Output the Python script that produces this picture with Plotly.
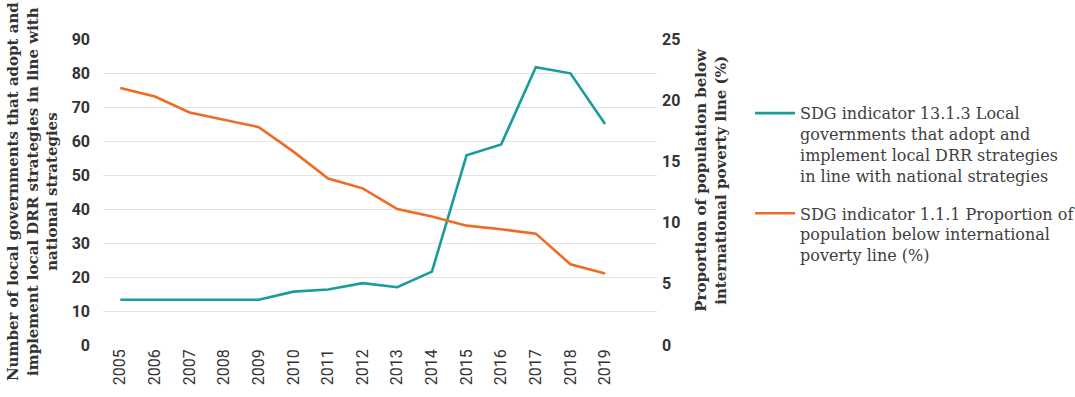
import plotly.graph_objects as go

years = [2005, 2006, 2007, 2008, 2009, 2010, 2011, 2012, 2013, 2014,
         2015, 2016, 2017, 2018, 2019]
local_drr = [13.3, 13.3, 13.3, 13.3, 13.3, 15.7, 16.3, 18.2, 17.0, 21.6,
             55.8, 59.0, 81.7, 79.9, 65.0]
poverty = [21.0, 20.3, 19.0, 18.4, 17.8, 15.8, 13.6, 12.8, 11.1, 10.5,
           9.75, 9.45, 9.1, 6.6, 5.85]

name_drr = ("SDG indicator 13.1.3 Local<br>governments that adopt and<br>"
            "implement local DRR strategies<br>in line with national strategies")
name_pov = ("SDG indicator 1.1.1 Proportion of<br>population below international<br>"
            "poverty line (%)")

TEAL = "#189d9b"
ORANGE = "#ef6b23"
TICK_FONT = dict(family="Roboto", size=16, color="#333333", weight="bold")
TITLE_FONT = dict(family="DejaVu Serif", size=15, color="#333333", weight="bold")

fig = go.Figure()
fig.add_trace(go.Scatter(x=years, y=local_drr, name=name_drr, mode="lines",
                         legendgroup="drr",
                         line=dict(color=TEAL, width=2.6)))
fig.add_trace(go.Scatter(x=years, y=poverty, name=name_pov, mode="lines",
                         legendgroup="pov",
                         line=dict(color=ORANGE, width=2.6), yaxis="y2"))

fig.update_layout(
    width=1075, height=397,
    margin=dict(l=103, r=418, t=39, b=52, autoexpand=False),
    plot_bgcolor="white", paper_bgcolor="white",
    showlegend=True,
    legend=dict(x=1.168, y=0.813, xanchor="left", yanchor="top",
                font=dict(family="DejaVu Serif", size=16, color="#404040"),
                valign="top", tracegroupgap=14, itemwidth=40,
                bgcolor="rgba(0,0,0,0)"),
    xaxis=dict(range=[2004.5, 2020.5], tickmode="array", tickvals=years,
               ticktext=[str(y) for y in years], tickangle=-90,
               tickfont=dict(family="Roboto", size=16, color="#333333"),
               showgrid=False, zeroline=False, showline=False),
    yaxis=dict(range=[0, 90], tickvals=list(range(0, 91, 10)),
               tickfont=TICK_FONT, gridcolor="#e3e3e3", gridwidth=1.3,
               zeroline=False, showline=False, ticklabelstandoff=12),
    yaxis2=dict(range=[0, 25], tickvals=list(range(0, 26, 5)), overlaying="y",
                side="right", tickfont=TICK_FONT, showgrid=False,
                zeroline=False, showline=False, ticklabelstandoff=4),
)

fig.add_annotation(
    text=("Number of local governments that adopt and<br>"
          "implement local DRR strategies in line with<br>national strategies"),
    xref="paper", yref="paper", x=-0.128, y=0.5, xanchor="center",
    yanchor="middle", textangle=-90, showarrow=False, font=TITLE_FONT,
    align="center")
fig.add_annotation(
    text="Proportion of population below<br>international poverty line (%)",
    xref="paper", yref="paper", x=1.0975, y=0.54, xanchor="center",
    yanchor="middle", textangle=-90, showarrow=False, font=TITLE_FONT,
    align="center")

fig.write_html("out.html")
